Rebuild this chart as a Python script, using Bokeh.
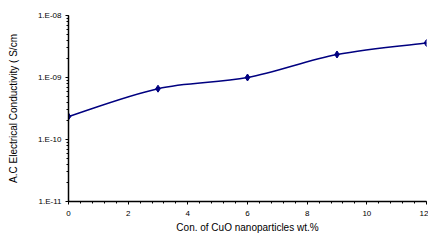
import math
from bokeh.plotting import figure
from bokeh.models import FixedTicker, CustomJSTickFormatter, Range1d, LogTicker
from bokeh.embed import file_html
from bokeh.resources import INLINE

conc = [0, 3, 6, 9, 12]
conductivity = [2.35e-10, 6.6e-10, 1.0e-9, 2.35e-9, 3.6e-9]
x_ticks = [0, 2, 4, 6, 8, 10, 12]
y_ticks = [1e-11, 1e-10, 1e-9, 1e-8]

p = figure(width=428, height=240, y_axis_type="log", output_backend="svg",
           toolbar_location=None, x_range=Range1d(0, 12), y_range=Range1d(1e-11, 1e-8),
           min_border_left=68, min_border_right=2, min_border_top=15, min_border_bottom=39)
p.outline_line_color = None
p.xgrid.visible = False
p.ygrid.visible = False

# smoothed (Catmull-Rom style) connector drawn as bezier segments in (x, log y) space
ly = [math.log10(v) for v in conductivity]
n = len(conc)
x0, y0, x1, y1, cx0, cy0, cx1, cy1 = [], [], [], [], [], [], [], []
for i in range(n - 1):
    a = max(i - 1, 0)
    d = min(i + 2, n - 1)
    x0.append(conc[i]); y0.append(conductivity[i])
    x1.append(conc[i + 1]); y1.append(conductivity[i + 1])
    cx0.append(conc[i] + (conc[i + 1] - conc[a]) / 6)
    cy0.append(10 ** (ly[i] + (ly[i + 1] - ly[a]) / 6))
    cx1.append(conc[i + 1] - (conc[d] - conc[i]) / 6)
    cy1.append(10 ** (ly[i + 1] - (ly[d] - ly[i]) / 6))
p.bezier(x0=x0, y0=y0, x1=x1, y1=y1, cx0=cx0, cy0=cy0, cx1=cx1, cy1=cy1,
         line_color="#000080", line_width=1.5)
p.scatter(conc, conductivity, marker="diamond", size=7, fill_color="#000080", line_color="#000080")

font = "Liberation Sans"
p.xaxis.ticker = FixedTicker(ticks=x_ticks, minor_ticks=[i * 0.4 for i in range(31)])
p.yaxis.ticker = LogTicker(num_minor_ticks=10)
p.yaxis.formatter = CustomJSTickFormatter(code="""
const e = Math.round(Math.log10(tick));
const s = (e < 0 ? '-' : '+') + String(Math.abs(e)).padStart(2, '0');
return '1.E' + s;
""")
for ax in (p.xaxis, p.yaxis):
    ax.axis_line_color = "black"
    ax.axis_line_width = 1.5
    ax.major_tick_line_color = "black"
    ax.minor_tick_line_color = "black"
    ax.major_tick_in = 0
    ax.major_tick_out = 3
    ax.minor_tick_in = 0
    ax.minor_tick_out = 2
    ax.major_label_text_font = font
    ax.major_label_text_font_size = "8px"
    ax.major_label_text_color = "black"
    ax.axis_label_text_font = font
    ax.axis_label_text_font_size = "10px"
    ax.axis_label_text_font_style = "normal"
    ax.axis_label_text_color = "black"

p.xaxis.axis_label = "Con. of CuO nanoparticles wt.%"
p.yaxis.axis_label = "A.C Electrical Conductivity ( S/cm"
p.xaxis.major_label_standoff = 6
p.xaxis.axis_label_standoff = 3
p.yaxis.major_label_standoff = 4
p.yaxis.axis_label_standoff = 16

open("out.html", "w").write(file_html(p, INLINE))
